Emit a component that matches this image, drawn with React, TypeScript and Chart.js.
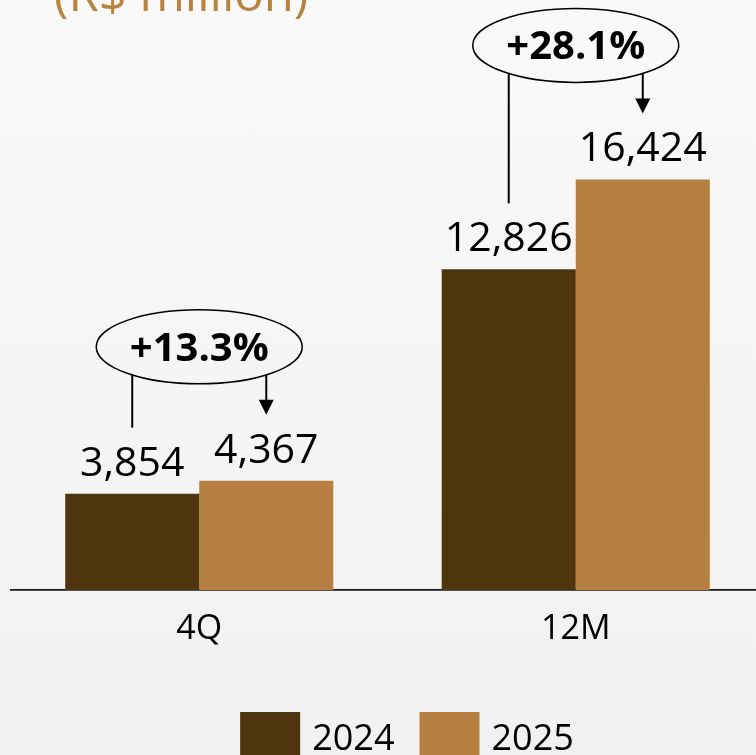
import React, { useEffect, useRef } from 'react';
import { Chart, registerables } from 'chart.js';

Chart.register(...registerables);

const categories = ['4Q', '12M'];
const seriesLabels = ['2024', '2025'];
const values2024 = [3854, 12826];
const values2025 = [4367, 16424];
const growthLabels = ['+13.3%', '+28.1%'];
const titleText = '(R$ million)';

const DARK = '#4f350e';
const LIGHT = '#b47f41';
const TITLE_COLOR = '#b8823f';
const FONT = '"Open Sans", sans-serif';

const fmt = (v: number) => v.toLocaleString('en-US');

const annotPlugin = {
  id: 'annot',
  afterDatasetsDraw(chart: any) {
    const ctx: CanvasRenderingContext2D = chart.ctx;
    const m0 = chart.getDatasetMeta(0);
    const m1 = chart.getDatasetMeta(1);
    ctx.save();

    // value labels
    chart.data.datasets.forEach((ds: any, di: number) => {
      const meta = chart.getDatasetMeta(di);
      meta.data.forEach((bar: any, i: number) => {
        ctx.font = `41px ${FONT}`;
        ctx.fillStyle = '#000';
        ctx.textAlign = 'center';
        ctx.textBaseline = 'alphabetic';
        ctx.fillText(fmt(ds.data[i]), bar.x, bar.y - 18);
      });
    });

    // growth ellipses with connectors
    categories.forEach((_c, i) => {
      const b0 = m0.data[i];
      const b1 = m1.data[i];
      const cx = (b0.x + b1.x) / 2;
      const cy = b1.y - 134;
      const rx = 103;
      const ry = 37;
      const edge = (x: number) => {
        const d = (x - cx) / rx;
        return cy + ry * Math.sqrt(Math.max(0, 1 - d * d));
      };
      ctx.strokeStyle = '#000';
      ctx.lineWidth = 1.5;
      ctx.beginPath();
      ctx.ellipse(cx, cy, rx, ry, 0, 0, Math.PI * 2);
      ctx.stroke();

      ctx.font = `bold 40px ${FONT}`;
      ctx.fillStyle = '#000';
      ctx.textAlign = 'center';
      ctx.textBaseline = 'alphabetic';
      ctx.fillText(growthLabels[i], cx, cy + 14);

      ctx.lineWidth = 2;
      // left line
      ctx.beginPath();
      ctx.moveTo(b0.x, edge(b0.x));
      ctx.lineTo(b0.x, b0.y - 66);
      ctx.stroke();
      // right arrow
      const tip = b1.y - 66;
      ctx.beginPath();
      ctx.moveTo(b1.x, edge(b1.x));
      ctx.lineTo(b1.x, tip - 14);
      ctx.stroke();
      ctx.beginPath();
      ctx.moveTo(b1.x - 7.5, tip - 15);
      ctx.lineTo(b1.x + 7.5, tip - 15);
      ctx.lineTo(b1.x, tip);
      ctx.closePath();
      ctx.fill();
    });
    ctx.restore();
  },
  afterDraw(chart: any) {
    const ctx: CanvasRenderingContext2D = chart.ctx;
    ctx.save();
    // title (partially cut at top)
    ctx.font = `49px ${FONT}`;
    ctx.fillStyle = TITLE_COLOR;
    ctx.textAlign = 'left';
    ctx.textBaseline = 'alphabetic';
    ctx.fillText(titleText, 54, 11);

    // legend
    ctx.font = `36px ${FONT}`;
    const boxW = 60;
    const boxH = 44;
    const gapText = 12;
    const gapItem = 25;
    const widths = seriesLabels.map((l) => boxW + gapText + ctx.measureText(l).width);
    const total = widths.reduce((a, b) => a + b, 0) + gapItem * (widths.length - 1);
    let x = 407 - total / 2;
    chart.data.datasets.forEach((ds: any, i: number) => {
      ctx.fillStyle = ds.backgroundColor;
      ctx.fillRect(x, 712, boxW, boxH);
      ctx.fillStyle = '#000';
      ctx.textAlign = 'left';
      ctx.fillText(seriesLabels[i], x + boxW + gapText, 750);
      x += widths[i] + gapItem;
    });
    ctx.restore();
  },
};

export default function App() {
  const ref = useRef<HTMLCanvasElement | null>(null);

  useEffect(() => {
    if (!ref.current) return;
    const chart = new Chart(ref.current, {
      type: 'bar',
      data: {
        labels: categories,
        datasets: [
          {
            label: seriesLabels[0],
            data: values2024,
            backgroundColor: DARK,
            categoryPercentage: 0.712,
            barPercentage: 1,
          },
          {
            label: seriesLabels[1],
            data: values2025,
            backgroundColor: LIGHT,
            categoryPercentage: 0.712,
            barPercentage: 1,
          },
        ],
      },
      options: {
        responsive: false,
        animation: false,
        layout: { padding: { left: 11, right: 16, top: 90, bottom: 0 } },
        plugins: {
          legend: { display: false },
          tooltip: { enabled: false },
        },
        scales: {
          x: {
            grid: { display: false, drawTicks: false },
            border: { display: true, color: '#1a1a1a', width: 1.8 },
            ticks: { color: '#000', font: { family: FONT, size: 34 }, padding: 19 },
            afterFit: (s: any) => {
              s.height = 165;
            },
          },
          y: { display: false, min: 0, max: 20000 },
        },
      },
      plugins: [annotPlugin],
    } as any);
    return () => chart.destroy();
  }, []);

  return (
    <div
      style={{
        position: 'fixed',
        left: 0,
        top: 0,
        width: 756,
        height: 755,
        overflow: 'hidden',
        background: 'linear-gradient(#f9f9f9, #f1f1f1)',
      }}
    >
      <canvas ref={ref} width={780} height={755} style={{ display: 'block' }} />
    </div>
  );
}
